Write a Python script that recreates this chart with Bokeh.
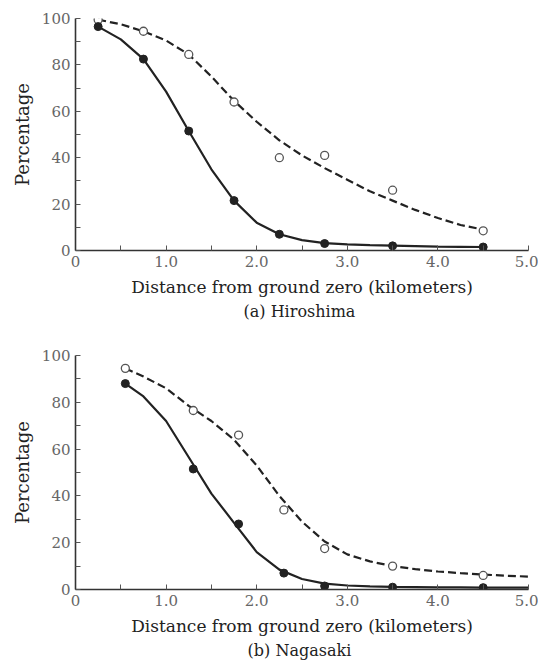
from bokeh.plotting import figure
from bokeh.layouts import column
from bokeh.models import Range1d, FixedTicker, Title
from bokeh.embed import file_html
from bokeh.resources import INLINE

# ---------------- data ----------------
x_ticks = [0, 1, 2, 3, 4, 5]
x_tick_labels = {0: "0", 1: "1.0", 2: "2.0", 3: "3.0", 4: "4.0", 5: "5.0"}
y_ticks = [0, 20, 40, 60, 80, 100]

# (a) Hiroshima
h_x = [0.25, 0.75, 1.25, 1.75, 2.25, 2.75, 3.5, 4.5]
h_open = [99.5, 94.5, 84.5, 64, 40, 41, 26, 8.5]
h_filled = [96.5, 82.5, 51.5, 21.5, 7, 3, 2, 1.5]
h_fit_x = [0.25, 0.5, 0.75, 1.0, 1.25, 1.5, 1.75, 2.0, 2.25, 2.5, 2.75,
           3.0, 3.25, 3.5, 3.75, 4.0, 4.25, 4.5]
h_open_fit = [99.5, 97.5, 94.5, 90.5, 84.5, 75, 64.5, 55.5, 47.5, 41, 35.5,
              30.5, 25.5, 21.5, 17.5, 14, 11, 9]
h_filled_fit = [96.5, 91, 82.5, 68.5, 51.5, 35, 21.5, 12, 7, 4.5, 3.2,
                2.6, 2.3, 2.1, 1.9, 1.7, 1.6, 1.5]

# (b) Nagasaki
n_x = [0.55, 1.3, 1.8, 2.3, 2.75, 3.5, 4.5]
n_open = [94.5, 76.5, 66, 34, 17.5, 10, 6]
n_filled = [88, 51.5, 28, 7, 1.5, 1, 0.8]
n_fit_x = [0.55, 0.75, 1.0, 1.25, 1.5, 1.75, 2.0, 2.25, 2.5, 2.75, 3.0,
           3.25, 3.5, 3.75, 4.0, 4.25, 4.5, 4.75, 5.0]
n_open_fit = [94.5, 91, 86, 78.5, 72, 64, 53, 40, 29, 20.5, 15, 12, 10,
              8.7, 7.7, 7, 6.4, 5.9, 5.5]
n_filled_fit = [88, 82.5, 72, 56.5, 41, 28.5, 16, 8.5, 4.5, 2.5, 1.7, 1.3,
                1.1, 1.0, 0.9, 0.9, 0.8, 0.8, 0.8]

FONT = "DejaVu Serif"
INK = "#222222"


def make_panel(xs, open_v, filled_v, fit_x, open_fit, filled_fit, caption,
               top, bottom, frame_h):
    p = figure(output_backend="svg",
               toolbar_location=None, x_range=Range1d(0, 5.0),
               y_range=Range1d(0, 100), frame_width=453, frame_height=frame_h,
               min_border_left=75, min_border_top=top,
               min_border_right=10, min_border_bottom=bottom,
               outline_line_color=None, background_fill_color="white",
               border_fill_color="white")
    p.grid.visible = False

    # fitted curves
    p.line(fit_x, open_fit, line_color=INK, line_width=2.2, line_dash="8 4")
    p.line(fit_x, filled_fit, line_color=INK, line_width=2.2)
    # observed points
    p.scatter(xs, open_v, size=8, marker="circle", fill_color="white",
              line_color="#555555", line_width=1.3)
    p.scatter(xs, filled_v, size=8, marker="circle", fill_color="#222222",
              line_color="#222222")

    for ax in (p.xaxis[0], p.yaxis[0]):
        ax.axis_line_color = "#333333"
        ax.axis_line_width = 1.6
        ax.major_tick_in = 5
        ax.major_tick_out = 0
        ax.minor_tick_in = 5
        ax.minor_tick_out = 0
        ax.major_tick_line_color = "#555555"
        ax.minor_tick_line_color = "#555555"
        ax.major_label_text_font = FONT
        ax.major_label_text_font_size = "15px"
        ax.major_label_text_color = "#666666"
        ax.axis_label_text_font = FONT
        ax.axis_label_text_font_style = "normal"
        ax.axis_label_text_color = INK

    p.xaxis.ticker = FixedTicker(ticks=x_ticks,
                                 minor_ticks=[0.5, 1.5, 2.5, 3.5, 4.5])
    p.xaxis.major_label_overrides = x_tick_labels
    p.xaxis.major_label_standoff = 5
    p.xaxis.axis_label = "Distance from ground zero (kilometers)"
    p.xaxis.axis_label_text_font_size = "17px"
    p.xaxis.axis_label_standoff = 7

    p.yaxis.ticker = FixedTicker(ticks=y_ticks,
                                 minor_ticks=[10, 30, 50, 70, 90])
    p.yaxis.major_label_standoff = 5
    p.yaxis.axis_label = "Percentage"
    p.yaxis.axis_label_text_font_size = "18px"
    p.yaxis.axis_label_standoff = 6

    t = Title(text=caption, align="center", offset=-6,
              text_font=FONT, text_font_size="16px",
              text_font_style="normal", text_color=INK, standoff=1)
    p.add_layout(t, "below")
    return p


p1 = make_panel(h_x, h_open, h_filled, h_fit_x, h_open_fit, h_filled_fit,
                "(a)  Hiroshima", 18, 80, 232)
p2 = make_panel(n_x, n_open, n_filled, n_fit_x, n_open_fit, n_filled_fit,
                "(b)  Nagasaki", 25, 72, 234)

layout = column(p1, p2)
open("out.html", "w").write(file_html(layout, INLINE))
